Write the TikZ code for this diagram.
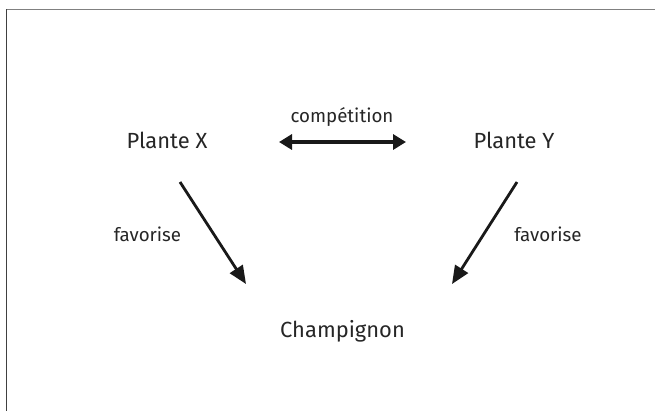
\documentclass[tikz,border=0pt]{standalone}
\usepackage{fontspec}
\setmainfont{Fira Sans}
\usetikzlibrary{arrows.meta}
\begin{document}
\begin{tikzpicture}[x=1bp,y=-1bp,
  lbl/.style={anchor=base,inner sep=0pt,text=black!85,font=\fontsize{22}{26}\selectfont},
  small/.style={anchor=base,inner sep=0pt,text=black!85,font=\fontsize{18.8}{22}\selectfont},
  dbl/.style={line width=4bp,{Triangle[length=13bp,width=15bp]}-{Triangle[length=13bp,width=15bp]},black!90},
  fav/.style={line width=2.8bp,-{Triangle[length=18bp,width=15bp]},black!90}]
\useasboundingbox (0,0) rectangle (655,411);
\fill[white] (0,0) rectangle (655,411);
\draw[line width=1.4bp,black!50] (6,9.5) -- (655,9.5);
\draw[line width=1.4bp,black!75] (6.7,9) -- (6.7,411);
\node[lbl] (px) at (167,148) {Plante X};
\node[lbl] (py) at (514,148) {Plante Y};
\node[lbl] (ch) at (342.5,337) {Champignon};
\node[small] (comp) at (342,122) {compétition};
\node[small] (f1) at (147.5,241) {favorise};
\node[small] (f2) at (548,241) {favorise};
\coordinate (dl) at (279,142);
\coordinate (dr) at (406,142);
\coordinate (a1s) at (180,182);
\coordinate (a1e) at (246,284);
\coordinate (a2s) at (517,182);
\coordinate (a2e) at (452,284);
\draw[dbl] (dl) -- (dr);
\draw[fav] (a1s) -- (a1e);
\draw[fav] (a2s) -- (a2e);
\end{tikzpicture}
\end{document}
